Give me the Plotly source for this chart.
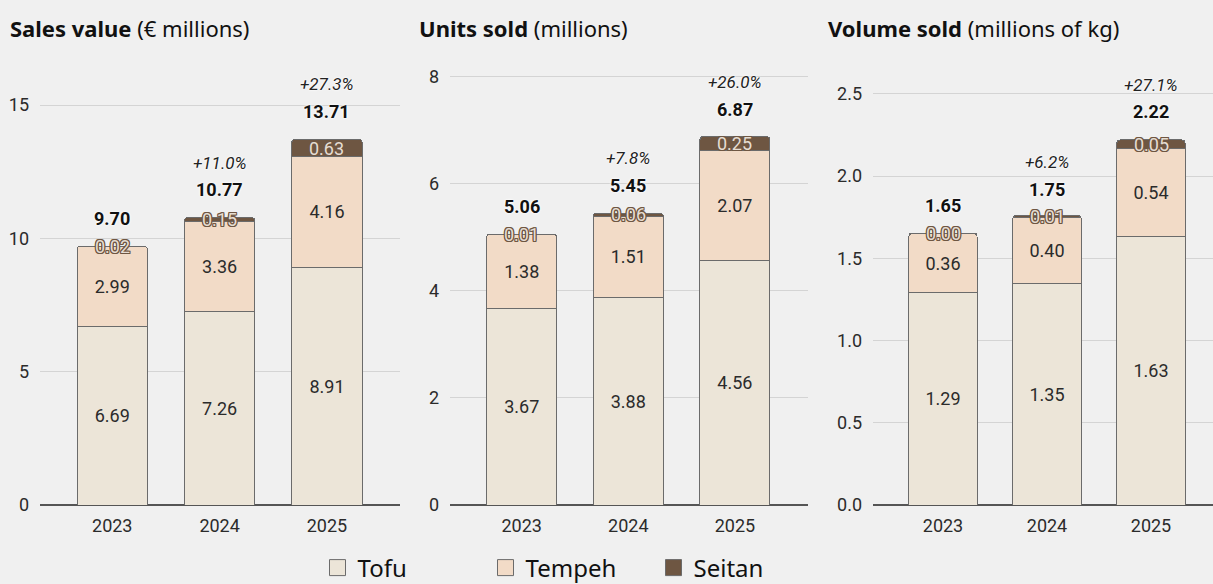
import plotly.graph_objects as go

years = ["2023", "2024", "2025"]

sales_tofu = [6.69, 7.26, 8.91]
sales_tempeh = [2.99, 3.36, 4.16]
sales_seitan = [0.02, 0.15, 0.63]
sales_total = [9.70, 10.77, 13.71]
sales_growth = ["", "+11.0%", "+27.3%"]

units_tofu = [3.67, 3.88, 4.56]
units_tempeh = [1.38, 1.51, 2.07]
units_seitan = [0.01, 0.06, 0.25]
units_total = [5.06, 5.45, 6.87]
units_growth = ["", "+7.8%", "+26.0%"]

vol_tofu = [1.29, 1.35, 1.63]
vol_tempeh = [0.36, 0.40, 0.54]
vol_seitan = [0.00, 0.01, 0.05]
vol_total = [1.65, 1.75, 2.22]
vol_growth = ["", "+6.2%", "+27.1%"]

titles = ["<b>Sales value</b> (€ millions)", "<b>Units sold</b> (millions)",
          "<b>Volume sold</b> (millions of kg)"]
series_names = ["Tofu", "Tempeh", "Seitan"]
colors = ["#ece5d8", "#f2dbc7", "#6e5642"]

panels = [
    (sales_tofu, sales_tempeh, sales_seitan, sales_total, sales_growth),
    (units_tofu, units_tempeh, units_seitan, units_total, units_growth),
    (vol_tofu, vol_tempeh, vol_seitan, vol_total, vol_growth),
]

W, H = 1213, 584
ML, MR, MT, MB = 0, 0, 65, 79
PH = H - MT - MB

x_domains_px = [(40, 400), (450, 808), (873, 1213)]
x_ranges = [[-0.673, 2.68], [-0.673, 2.686], [-0.673, 2.596]]
y_ranges = [[0, 16.5], [0, 8.22], [0, 2.676]]
y_dticks = [5, 2, 0.5]
y_formats = ["d", "d", ".1f"]

BASE_FONT = "Roboto, Liberation Sans, sans-serif"
TITLE_FONT = "Noto Sans, Open Sans, sans-serif"
BROWN = "#6e5642"
OUTLINE = (f"1px 0px 0px {BROWN}, -1px 0px 0px {BROWN}, 0px 1px 0px {BROWN}, "
           f"0px -1px 0px {BROWN}, 1px 1px 0px {BROWN}, -1px -1px 0px {BROWN}, "
           f"1px -1px 0px {BROWN}, -1px 1px 0px {BROWN}")
HALO = "0px 0px 3px #ffffff, 0px 0px 2px #ffffff"

fig = go.Figure()
annotations = []

for i, (tofu, tempeh, seitan, total, growth) in enumerate(panels):
    xa = "x" if i == 0 else f"x{i+1}"
    ya = "y" if i == 0 else f"y{i+1}"
    for name, vals, col, show_text in [("Tofu", tofu, colors[0], True),
                                       ("Tempeh", tempeh, colors[1], True),
                                       ("Seitan", seitan, colors[2], False)]:
        fig.add_trace(go.Bar(
            x=years, y=vals, name=name, xaxis=xa, yaxis=ya,
            marker=dict(color=col, line=dict(color="#6b6b6b", width=1)),
            width=0.655,
            text=[f"{v:.2f}" for v in vals] if show_text else None,
            textposition="inside" if show_text else "none",
            insidetextanchor="middle",
            textangle=0,
            textfont=dict(family=BASE_FONT, size=18, color="#2b2b2b"),
            showlegend=False, hoverinfo="skip",
        ))
    for j in range(len(years)):
        base = tofu[j] + tempeh[j]
        annotations.append(dict(
            x=j, y=base + seitan[j] / 2, xref=xa, yref=ya, showarrow=False,
            text=f"{seitan[j]:.2f}",
            font=dict(family=BASE_FONT, size=18, color="#e6ddd3", shadow=OUTLINE),
            xanchor="center", yanchor="middle"))
        annotations.append(dict(
            x=j, y=total[j], xref=xa, yref=ya, showarrow=False, yshift=28,
            text=f"<b>{total[j]:.2f}</b>",
            font=dict(family=BASE_FONT, size=18, color="#111111", shadow=HALO),
            xanchor="center", yanchor="middle"))
        if growth[j]:
            annotations.append(dict(
                x=j, y=total[j], xref=xa, yref=ya, showarrow=False, yshift=55,
                text=f"<i>{growth[j]}</i>",
                font=dict(family=BASE_FONT, size=17, color="#222222", shadow=HALO),
                xanchor="center", yanchor="middle"))
    annotations.append(dict(
        x=[8, 417, 826][i] / W, y=(PH + MT - 28) / PH, xref="paper", yref="paper",
        showarrow=False, text=titles[i], xanchor="left", yanchor="middle",
        font=dict(family=TITLE_FONT, size=22, color="#111111")))

# legend entries
for name, col in zip(series_names, colors):
    fig.add_trace(go.Scatter(
        x=[None], y=[None], mode="markers", name=name,
        marker=dict(symbol="square", size=16, color=col,
                    line=dict(color="#6b6b6b", width=1)),
        showlegend=True, hoverinfo="skip"))

layout = dict(
    width=W, height=H,
    margin=dict(l=ML, r=MR, t=MT, b=MB, autoexpand=False),
    paper_bgcolor="#f0f0f0", plot_bgcolor="#f0f0f0",
    barmode="stack", barcornerradius=3,
    annotations=annotations,
    showlegend=True,
    legend=dict(orientation="h", x=0.5 - 37 / W, xanchor="center", y=(505 - 568) / PH,
                yanchor="middle", traceorder="normal",
                font=dict(family="Noto Sans, sans-serif", size=24, color="#111111"),
                entrywidth=123, itemwidth=30, bgcolor="rgba(0,0,0,0)"),
    font=dict(family=BASE_FONT, color="#333333"),
)

for i in range(3):
    sfx = "" if i == 0 else str(i + 1)
    x0, x1 = x_domains_px[i]
    layout[f"xaxis{sfx}"] = dict(
        domain=[x0 / W, x1 / W], range=x_ranges[i], type="category",
        anchor=f"y{sfx}", showgrid=False, showline=False, zeroline=False,
        ticks="", ticklabelstandoff=8,
        tickfont=dict(family=BASE_FONT, size=18, color="#2b2b2b"),
        fixedrange=True, automargin=False)
    layout[f"yaxis{sfx}"] = dict(
        domain=[0, 1], range=y_ranges[i], anchor=f"x{sfx}",
        dtick=y_dticks[i], tick0=0, tickformat=y_formats[i],
        showgrid=True, gridcolor="#d4d4d4", gridwidth=1,
        zeroline=True, zerolinecolor="#555555", zerolinewidth=1.5,
        showline=False, ticks="", ticklabelstandoff=10,
        tickfont=dict(family=BASE_FONT, size=18, color="#2b2b2b"),
        fixedrange=True, automargin=False)

fig.update_layout(**layout)
fig.write_html(
    "out.html",
    config={"displayModeBar": False},
    post_script="document.body.style.margin='0';document.body.style.background='#f0f0f0';",
)
